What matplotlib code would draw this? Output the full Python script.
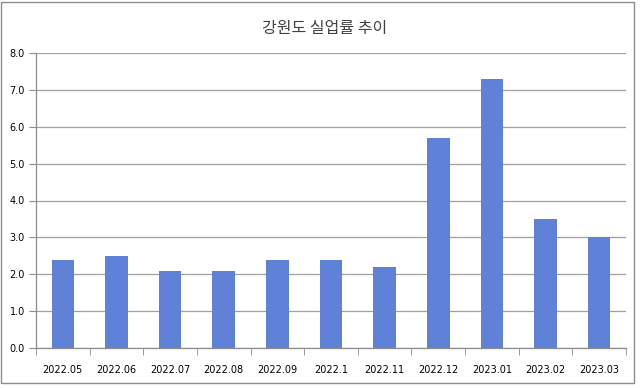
import matplotlib
matplotlib.use("Agg")
import matplotlib.pyplot as plt
from matplotlib.patches import Rectangle

categories = ["2022.05", "2022.06", "2022.07", "2022.08", "2022.09", "2022.1",
              "2022.11", "2022.12", "2023.01", "2023.02", "2023.03"]
values = [2.4, 2.5, 2.1, 2.1, 2.4, 2.4, 2.2, 5.7, 7.3, 3.5, 3.0]
yticks = [0.0, 1.0, 2.0, 3.0, 4.0, 5.0, 6.0, 7.0, 8.0]
title = "강원도 실업률 추이"

plt.rcParams['font.family'] = ['Noto Sans CJK KR', 'DejaVu Sans']

fig = plt.figure(figsize=(6.4, 3.88), dpi=100)
ax = fig.add_axes([36/640, 1-348/388, 590/640, 295/388])

x = list(range(len(categories)))
ax.bar(x, values, width=0.42, color="#5F82D8", zorder=3)
ax.set_xlim(-0.5, len(categories)-0.5)
ax.set_ylim(0, 8)
ax.set_yticks(yticks)
ax.set_yticklabels([f"{v:.1f}" for v in yticks], fontsize=7, family=['DejaVu Sans'])
ax.set_xticks(x)
ax.set_xticklabels(categories, fontsize=7, family=['DejaVu Sans'])
ax.tick_params(axis='x', length=0, pad=12)
ax.set_xticks([i - 0.5 for i in range(len(categories)+1)], minor=True)
ax.tick_params(axis='x', which='minor', length=5, color="#8c8c8c")
ax.tick_params(axis='y', length=5, color="#8c8c8c", pad=3)
ax.grid(axis='y', color="#a0a0a0", linewidth=0.9, zorder=0)
for s in ['top', 'right']:
    ax.spines[s].set_visible(False)
for s in ['left', 'bottom']:
    ax.spines[s].set_color("#8c8c8c")
    ax.spines[s].set_linewidth(0.9)

fig.text(325/640, 1-28/388, title, ha='center', va='center', fontsize=11.5, color="#404040")

fig.patches.append(Rectangle((1/640, 1-383/388), 633/640, 381/388, transform=fig.transFigure,
                             fill=False, edgecolor="#8c8c8c", linewidth=1))

fig.savefig("out.png", dpi=100)
